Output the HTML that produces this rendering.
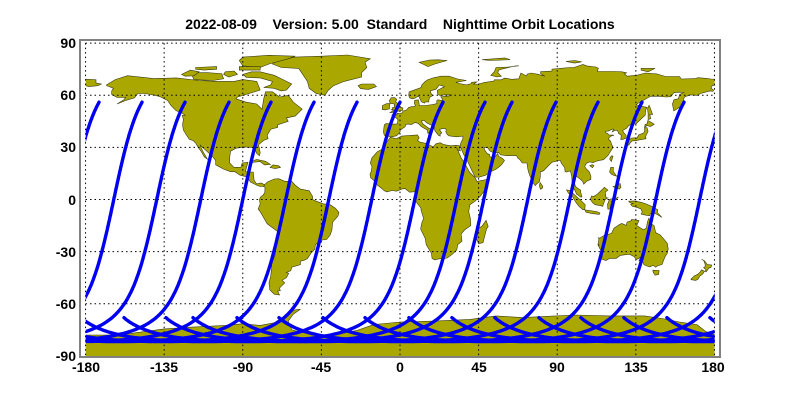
<!DOCTYPE html>
<html><head><meta charset="utf-8"><style>
html,body{margin:0;padding:0;background:#fff;}
svg{display:block;}
text{font-family:"Liberation Sans",Arial,sans-serif;font-weight:bold;fill:#000;}
</style></head><body>
<svg id="s" width="800" height="400" viewBox="0 0 800 400" xmlns="http://www.w3.org/2000/svg">
<defs><clipPath id="c"><rect x="85.7" y="43" width="628.9" height="313"/></clipPath></defs>
<rect x="0" y="0" width="800" height="400" fill="#fff"/>
<g id="land" clip-path="url(#c)" fill="#aaa800" stroke="#3a3a10" stroke-width="0.6"></g>
<g id="grid" stroke="#000" stroke-width="1" stroke-dasharray="1.5,3" fill="none"></g>
<g id="trk" clip-path="url(#c)" fill="none" stroke="#0000f0" stroke-width="3.4" stroke-linejoin="round" stroke-linecap="round"></g>
<rect x="80" y="40" width="640" height="317" fill="none" stroke="#808080" stroke-width="2"/>
<text x="400" y="29" font-size="14" text-anchor="middle" xml:space="preserve">2022-08-09    Version: 5.00  Standard    Nighttime Orbit Locations</text>
<g font-size="14" text-anchor="end">
<text x="76" y="48">90</text><text x="76" y="100">60</text><text x="76" y="152">30</text><text x="76" y="205">0</text>
<text x="76" y="257">-30</text><text x="76" y="309">-60</text><text x="76" y="361">-90</text>
</g>
<g font-size="14" text-anchor="middle">
<text x="86" y="372">-180</text><text x="164" y="372">-135</text><text x="243" y="372">-90</text><text x="321" y="372">-45</text>
<text x="400" y="372">0</text><text x="479" y="372">45</text><text x="557" y="372">90</text><text x="636" y="372">135</text><text x="713" y="372">180</text>
</g>
</svg>
<script>
var NS="http://www.w3.org/2000/svg";
function X(l){return 400+l*1.747;}
function Y(a){return 199.5-a*1.737;}
function pts(a){return a.map(function(p){return X(p[0]).toFixed(1)+","+Y(p[1]).toFixed(1);}).join(" ");}
var L=[
[[-168,66],[-163,69],[-156,71.3],[-141,69.6],[-128,70],[-115,68.5],[-105,68],[-95,68],[-90,69],[-82,68],[-80,63],[-93,59],[-94,58],[-88,56],[-82,55],[-79,52],[-78,58],[-77,62],[-73,62],[-69,59],[-64,60],[-61,56],[-56,52],[-60,48],[-65,47],[-64,45],[-70,43],[-70,41.5],[-74,40.5],[-76,37],[-75.5,35],[-78,34],[-81,31.5],[-80,27],[-80.5,25.2],[-82,26.5],[-83,29],[-85,30],[-89,30.2],[-94,29.5],[-97,27.8],[-97.5,24],[-97.5,21],[-95,18.5],[-91,18.6],[-90.3,21],[-87,21.5],[-88,18],[-88.5,16],[-84,15.8],[-83.5,11],[-82,9],[-79.5,9.5],[-77.5,8.5],[-78,7.5],[-80,7.5],[-81.5,8],[-85.5,10],[-87.5,13],[-91.5,14],[-94.5,16],[-97,16],[-101,17.5],[-105.5,20],[-105.5,22.5],[-108,25.5],[-112.5,29.5],[-114.5,31.5],[-113,28],[-111,24.5],[-110,23],[-112,24.5],[-114,28],[-115.5,30],[-117,32.5],[-118.5,34],[-120.6,34.6],[-122.5,37.5],[-124,40],[-124.5,43],[-124,46],[-124.6,48.4],[-123,48.5],[-125,50],[-128,51],[-131,54],[-133,57],[-137,59],[-140,60],[-146,61],[-150,61],[-152,58.5],[-157,57],[-162,55],[-158,57.5],[-157,58.8],[-162,58.7],[-165,60.5],[-165,62.5],[-164,64],[-168,65.6]],
[[-73,78],[-68,76],[-58,75.5],[-55,71],[-53,68],[-52,64],[-48,61],[-43,60],[-41,63],[-38,65.5],[-32,68],[-22,70.5],[-22,73],[-19,76],[-20,79],[-17,81],[-30,83.2],[-45,82.5],[-60,82],[-65,81],[-72,79]],
[[-80,73.5],[-72,71.5],[-67,69],[-62,66.5],[-65,63],[-68,62.5],[-72,64],[-78,64.5],[-74,66],[-73,68],[-80,70],[-88,70.3],[-90,72],[-85,73.5]],
[[-118,73],[-110,73],[-102,72.5],[-101,69.5],[-107,68.5],[-118,69],[-119,71.5]],
[[-90,77],[-80,76],[-75,78],[-64,81],[-60,82.5],[-75,83],[-90,82],[-92,80]],
[[-125,72],[-120,74.5],[-115,73.5],[-118,71.2],[-123,71]],
[[-92,76.5],[-80,76.5],[-80,74.5],[-92,74.5]],
[[-100,73.5],[-95,74],[-93,72],[-98,70.5],[-101,72]],
[[-117,76],[-105,76.5],[-105,75],[-112,74.5],[-117,75]],
[[-24,65.5],[-22,66.5],[-15,66.5],[-13.5,65],[-18,63.4],[-22.5,63.8]],
[[-85,21.9],[-82,23.1],[-77,22],[-74.2,20.2],[-77.5,19.9],[-80,21.8],[-84,21.4]],
[[-74.4,18.4],[-72.7,19.9],[-69.5,19.5],[-68.4,18.5],[-71.5,17.8]],
[[-77.5,8.5],[-76,10],[-72,11.8],[-69.5,12],[-66,10.5],[-62,10.5],[-60,8.3],[-57,6],[-52,5],[-50,1.8],[-50,0],[-48,-1],[-44,-2.5],[-40,-3],[-37,-5],[-35,-7.5],[-35.5,-9.5],[-38.5,-13],[-39,-17.5],[-40,-20.5],[-42,-23],[-44.5,-23.3],[-48.5,-26],[-48.7,-28.5],[-51,-31],[-53,-34],[-55,-35],[-57,-35.5],[-57,-37.5],[-62,-39],[-62.5,-41],[-65,-42],[-63.7,-42.5],[-65,-45],[-67.5,-46.5],[-66,-48],[-69,-51],[-68.5,-52.5],[-70,-52.7],[-69,-55],[-72,-54.5],[-74.5,-52],[-75,-48],[-74,-44],[-73.5,-40],[-73.5,-37],[-71.5,-32],[-71.5,-28],[-70.5,-24],[-70,-18.5],[-72,-17],[-76,-14],[-78,-10.5],[-80,-7],[-81.2,-5.5],[-80,-2.5],[-80.5,0],[-79.8,1.5],[-78.5,2.5],[-77.4,4],[-77.3,7],[-78,7.5]],
[[-17,21],[-16,24],[-13,27.5],[-10,29],[-9.5,31],[-6.8,34],[-5.5,35.8],[-2,35],[1,36.5],[10,37.2],[11,35.5],[10,34],[11.5,33],[15,32.3],[19,30.3],[20.5,32],[23,32.7],[25,31.6],[29,30.9],[32,31.2],[34,31],[34.5,28],[33,28.5],[32.3,30],[32.6,29.5],[35,24],[37,21],[38.5,18],[40,15.5],[43,12.6],[44,10.4],[51,11.8],[51,10.5],[49,6],[46,2],[43,-1],[40,-3],[39.3,-7],[40.3,-11],[40.5,-15],[37,-17.5],[35,-20],[35.5,-24],[33,-26],[32.5,-29],[30,-31.5],[27,-33.7],[25,-34],[22,-34.2],[20,-34.8],[18.4,-34],[18,-31],[16.5,-28.5],[15,-26],[14.5,-22.5],[11.8,-17],[12.5,-13.5],[13.5,-11],[12,-6],[12,-5],[9,-1],[9.5,1],[9.5,3.5],[8.5,4.5],[5.5,4.2],[3,6.3],[1,6],[-2,4.8],[-4.5,5.2],[-7.5,4.4],[-9,5],[-11,6.8],[-13,8.3],[-13.5,9.5],[-15,11],[-16.8,12.5],[-17.2,14.7],[-16.5,16],[-16,19]],
[[49.3,-12],[50.5,-15.5],[49.5,-17],[47.5,-24.8],[45,-25.5],[43.5,-22],[44,-17],[47,-15.3]],
[[-9,43],[-9.5,39],[-9,37],[-6,36.2],[-5.5,36],[-2,36.7],[0,38.7],[0.2,40],[3,41.9],[3.2,43.2],[4.5,43.4],[6.5,43.1],[8.5,44.3],[10.2,43.9],[12.4,41.8],[15.6,40],[16,38],[17,39],[18.5,40.2],[16.5,41],[13,43.6],[12.3,45.3],[13.7,45.6],[15.5,44],[19.5,42],[20,39.6],[22,37],[23,36.5],[23,38],[24,38.2],[22.6,40.2],[24,40.8],[26,40.8],[26.5,40],[26.2,39],[27,37.5],[28,36.7],[30.5,36.3],[32.5,36.1],[36,36.5],[36,35],[35,33],[34.5,31.5],[34.9,29.5],[36.5,25.8],[39,21.5],[41,17],[43,13],[45,12.8],[49,14],[52,16],[55,17.5],[57,19],[58.5,20.5],[59.8,22.5],[58.5,23.7],[56.4,24.9],[56,26.5],[54,24.2],[51.5,24.5],[51.2,26],[50,26.3],[48.5,28.5],[48,30],[50,30],[51.5,27.9],[54,26.7],[56.5,27.1],[57.5,25.7],[61.5,25.2],[66.6,25.4],[67.5,23.8],[68.5,23],[70,21],[72.7,21],[72.9,18.9],[73.5,16],[74.6,13],[76.3,9.5],[77.5,8],[78.2,8.9],[79.8,10.3],[80.3,13],[80.3,15.8],[82.2,16.6],[84.8,19.3],[87,21.5],[89,21.9],[90.5,22.5],[91.8,22.4],[92.3,21],[94.3,18.3],[94.5,16],[95.3,15.8],[97.5,16.5],[98.3,13.5],[98.5,10],[98.3,8],[100.3,5],[101,3.2],[103.5,1.3],[104.2,1.5],[103.5,4],[103.3,5.5],[102,6.3],[100.5,7.4],[99.9,9.3],[99.2,10.4],[100,12.7],[100.9,13.4],[102.5,12.2],[104.5,10.5],[105.2,8.8],[106.7,10.4],[109.2,11.6],[109.3,13.4],[108.3,16],[106.6,17.7],[105.7,19],[106.7,20.8],[108.5,21.7],[110.5,21.2],[111.9,21.8],[113.6,22.4],[116.5,22.9],[119,25.3],[120.7,28],[122,30],[121,32],[120.6,33.5],[119.2,35],[120.7,36.5],[122.5,37],[119.5,37.2],[118.9,38],[117.6,38.6],[117.7,39.3],[119,39.3],[121.5,40.5],[122.3,40.5],[121.5,39],[123,39.7],[124.5,39.8],[125.2,38],[126.7,37],[126.4,34.5],[127.9,34.7],[129.4,35.3],[129.4,37],[128,38.5],[127.5,39.8],[129.7,41],[130.7,42.3],[132.3,43.3],[135.1,43.5],[138.2,46.6],[140.4,48.6],[140.6,51.5],[141.4,53],[137.2,53.9],[135.1,54.7],[137.2,56],[140.5,57.8],[143.4,59.4],[148.2,59.4],[152.2,59],[155,59.2],[156.8,61.5],[159.7,61.8],[162.7,61.6],[160.1,60.5],[159.3,58],[156.8,57.4],[155.9,55],[156.7,51],[158.3,51.9],[160,53.2],[162.1,54.8],[161.7,55.3],[163,56.1],[162.1,57.8],[163.2,59.2],[166.3,60.2],[170.3,60],[172,61],[177.4,62.5],[179.2,62.3],[179.5,63],[178,64],[178.8,65.8],[182,65],[187,65.5],[189,66.5],[186,67],[186,68.9],[178,69.4],[175,69.8],[170.5,70.1],[169,69.6],[161,69.4],[160,70.8],[152,70.8],[147,72.3],[140.5,72.8],[136,71.6],[130,71],[128.5,72.3],[129.7,72.9],[127,73.5],[123,73.7],[113,73.7],[113.5,75.6],[112,76.3],[107,76.9],[104.7,77.7],[99.6,76],[97,76],[93,75.6],[87,75.1],[87,73.9],[80.5,73.6],[80.5,72.5],[83,71],[79,72.1],[75,72.8],[72.8,72.2],[72.4,71.1],[69.2,72.8],[68,69.5],[64,69.2],[60,69.9],[58,68.9],[54,68.9],[53.7,68.2],[48.5,67.4],[45,66.5],[42,66.4],[44,67.7],[41,67.5],[41,66.8],[38,66],[34,66.8],[32,67.5],[38,68.5],[33,69.4],[28,71],[23.5,71],[19,70],[16,69],[14.5,68],[12.5,66],[12,64.5],[9.5,63.5],[5.2,62],[5,60],[5.5,58.5],[7,58],[8.5,58.3],[10.5,59.5],[11,58.9],[12.2,56.3],[12.6,56.1],[14.1,55.5],[14.4,56.2],[16.5,56.2],[16.5,57],[16.9,58.7],[18.8,59.8],[17.8,61],[17.3,62.5],[20.6,63.5],[22.5,65.9],[25.3,65.1],[25.3,64.9],[21.3,62.8],[21.5,60.7],[22.9,59.8],[25.5,60.3],[29,60.2],[28,59.5],[23.3,59.2],[24,58.3],[24.4,57],[21.6,57.4],[21,56.8],[21.2,55.2],[19.9,54.9],[18.6,54.7],[15,54.1],[13,54.1],[11,54],[10.9,55.8],[10.5,57.4],[8.5,57.1],[8.1,55.5],[8.9,54],[8.1,53.5],[6.9,53.5],[5,53],[3.8,51.6],[1.6,50.9],[1.6,50],[0,49.5],[-1.5,49.7],[-1.9,48.7],[-4.6,48.7],[-4.5,47.9],[-2.2,47],[-1.2,46],[-1.4,44],[-1.9,43.4],[-4.3,43.4],[-8,43.7]],
[[-5,50],[1.4,51.3],[1.7,52.7],[0,53.5],[-0.4,54.4],[-1.7,55.6],[-2.5,56.2],[-1.9,57.6],[-3,58.6],[-5,58.6],[-6.1,57],[-5.6,55.3],[-3,54.9],[-3.4,54],[-3,53.2],[-4.5,52.8],[-4.3,51.7],[-5.3,51.7],[-3.5,51.4],[-5.7,50]],
[[-6,52.2],[-6,53.8],[-5.7,55.2],[-7.5,55.2],[-10,54.2],[-10.2,51.8],[-8.5,51.6]],
[[130.2,33.5],[131,34.3],[132.6,35.4],[135.7,35.5],[136.7,37.3],[139.4,38.2],[140,39.4],[140,41.2],[141.4,41.4],[142,39.2],[140.6,36.3],[140.8,35],[138.4,34.6],[136.8,34.3],[135.1,33.8],[133,33.8],[131.9,32.8],[131,31.3],[130.2,31.4]],
[[140,41.5],[141.4,42.6],[143.3,42],[145.5,43.3],[144.6,44],[141.9,45.5],[141.3,43.4],[140.3,43.3]],
[[142,46],[143.5,46.5],[143,49],[144.6,49],[143.2,52.8],[142.6,54.3],[141.7,52.3],[142,49.5]],
[[120.1,23],[121,21.9],[121.9,24.9],[121.2,25.2],[120.2,24]],
[[108.6,19.4],[110.2,18.3],[111,19.6],[110,20.1]],
[[79.8,8],[80.2,9.8],[81.8,7.5],[81.3,6.2],[80.3,6]],
[[95.3,5.5],[97.5,5.2],[100.6,2.1],[104,-1],[106,-3],[105.8,-5.9],[104.7,-5.9],[102.5,-4],[100.9,-2],[98.6,1.8],[96.4,3.7]],
[[105.8,-6],[108.5,-6.4],[112.5,-6.9],[114.5,-7.8],[114,-8.6],[110.6,-8.2],[106.5,-7.4]],
[[109.6,2],[111,1.8],[113,3.1],[115.5,5.5],[117,7],[119,5.4],[117.5,4.2],[118,1],[119,0.9],[117.5,0.1],[116.5,-2.5],[116,-4],[114.5,-3.5],[111.7,-3],[110.2,-1.7],[109,0]],
[[119,-5.5],[120.4,-5.5],[120.4,-3],[121.5,-1.9],[121,-1],[123.2,-0.6],[125,1.5],[124.2,1],[120.2,0.2],[119.8,-0.1],[118.8,-2.8]],
[[120.6,18.5],[122.2,18.5],[122,16.3],[124,13.5],[122.5,13.8],[121,14.6],[120,15.8]],
[[122,7.5],[124,8],[126,9.2],[126.5,7],[125.5,6],[123,6.8]],
[[131,-1],[134,-0.8],[138,-1.6],[141,-2.6],[145,-4.3],[147.6,-6],[147.2,-7.4],[150,-10.3],[146.1,-8],[143.3,-8.2],[143,-9.3],[141,-9.1],[138,-8.4],[138.7,-7.2],[137.9,-5.4],[135,-4.4],[133,-4],[132,-2.8],[133.6,-2.2],[132,-2],[131,-1.3]],
[[113.3,-22],[114.2,-22.3],[116.7,-20.7],[121,-19.5],[122.5,-16.5],[125.8,-14.3],[127,-13.8],[129.5,-14.9],[130,-13],[132.6,-12.1],[132.5,-11.5],[136,-12],[136.8,-12.2],[135.5,-15],[139.5,-17.5],[141,-16.4],[141.7,-12.8],[142.5,-10.7],[143.5,-12.8],[143.6,-14],[145.4,-14.9],[146,-17.5],[146.3,-19],[148.9,-20.4],[150.7,-22.4],[153,-25.3],[153.5,-28.5],[153,-31],[151.7,-33],[150,-37.4],[147.4,-38.2],[146.3,-39],[144.9,-37.9],[143,-38.8],[140.6,-38],[139.6,-37.4],[139,-35.7],[138.1,-35.6],[138.5,-34.4],[137.7,-35.1],[136.8,-35.3],[137.8,-33],[136.4,-34.1],[135.2,-34.5],[134,-32.9],[131.3,-31.5],[126.1,-32.2],[123.7,-33.9],[119.9,-33.9],[117.9,-35.1],[115,-34.2],[115.7,-33.3],[115.8,-31.6],[115,-29.5],[113.3,-26.1],[114,-26.3],[113.4,-25.6],[113.9,-22.4]],
[[144.7,-40.7],[148.3,-40.9],[148,-43.2],[146,-43.6],[145,-42]],
[[172.7,-34.4],[174.3,-35.3],[175.9,-37.5],[178.5,-37.7],[177.9,-39.2],[176.9,-39.4],[175.2,-41.6],[174.6,-41.3],[175.2,-40.5],[173.8,-39.2],[174.6,-38.8],[174.7,-37.4],[173.9,-35.2]],
[[172.6,-40.5],[174.3,-41.3],[173.2,-43],[171.5,-44.2],[170.6,-45.9],[169.3,-46.6],[166.7,-46.2],[166.5,-45.9],[168.3,-44.1],[170.5,-43],[172,-41.5]],
[[52,71.5],[55.5,70.5],[58,70.9],[56,73],[56.5,74.5],[58,75],[66,76.9],[68,77],[62,76.3],[55,76],[54,73.5]],
[[11,79],[17,80.3],[22,80.4],[27,80],[20,78],[16,76.5],[13,78]],
[[95,79.5],[100,80],[104,79.3],[100,78.5]],
[[138,75.5],[146,75.5],[142,73.5],[138,74.5]],
[[47,80.5],[60,81.5],[63,80.5],[52,80]],
[[-181,-78],[-160,-78],[-150,-76.5],[-135,-74.5],[-120,-73.5],[-100,-72.5],[-90,-71.5],[-80,-72.5],[-72,-71],[-66,-67],[-60,-63.5],[-57,-63.2],[-61,-66],[-64,-70],[-62,-75],[-50,-78],[-35,-77.5],[-25,-75.5],[-15,-72],[0,-70.5],[20,-70],[40,-69],[55,-67],[70,-68],[80,-67.5],[100,-66.5],[120,-67],[140,-67],[150,-68.5],[160,-70.5],[170,-72],[175,-76],[181,-78],[181,-95],[-181,-95]]
];
var land=document.getElementById("land");
L.forEach(function(p,i){
  var e=document.createElementNS(NS,"polygon");e.setAttribute("points",pts(p));land.appendChild(e);
  if(i!==L.length-1 && p.some(function(q){return q[0]>180;})){
    var e2=document.createElementNS(NS,"polygon");e2.setAttribute("points",pts(p.map(function(q){return[q[0]-360,q[1]];})));land.appendChild(e2);
  }
});
var g=document.getElementById("grid");
for(var lo=-180;lo<=180;lo+=45){var l=document.createElementNS(NS,"line");l.setAttribute("x1",X(lo));l.setAttribute("x2",X(lo));l.setAttribute("y1",Y(90));l.setAttribute("y2",Y(-90));g.appendChild(l);}
for(var la=-60;la<=90;la+=30){var l=document.createElementNS(NS,"line");l.setAttribute("x1",X(-180));l.setAttribute("x2",X(180));l.setAttribute("y1",Y(la));l.setAttribute("y2",Y(la));g.appendChild(l);}
var tops=[99,142,185,229,271,314,357,400,443,485,512,556,598,642,684];
var inc=98.2*Math.PI/180,si=Math.sin(inc),ci=Math.cos(inc),D=24.2;
var tr=document.getElementById("trk");
function lam(u){return Math.atan2(ci*Math.sin(u),Math.cos(u))*180/Math.PI;}
var u0=Math.PI-Math.asin(Math.sin(56*Math.PI/180)/si);
var uE=2*Math.PI-Math.asin(Math.sin(68*Math.PI/180)/si);
tops.forEach(function(xt){
  var Lt=(xt-400)/1.747,a=[],prev=lam(u0),acc=0;
  for(var u=u0;u<=uE;u+=0.01){
    var lm=lam(u),d=lm-prev;if(d>180)d-=360;if(d<-180)d+=360;acc+=d;prev=lm;
    var lon=Lt+acc-D*(u-u0)/(2*Math.PI);
    var lat=Math.asin(si*Math.sin(u))*180/Math.PI;a.push([lon,lat]);
  }
  [-360,0,360].forEach(function(o){
    var e=document.createElementNS(NS,"polyline");
    e.setAttribute("points",pts(a.map(function(p){return[p[0]+o,p[1]];})));tr.appendChild(e);});
});
</script>
</body></html>
